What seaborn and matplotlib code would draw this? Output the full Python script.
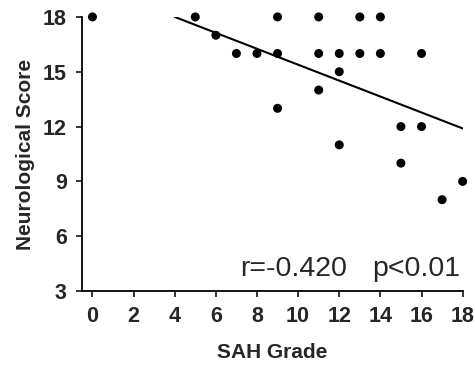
import numpy as np
import pandas as pd
import matplotlib
matplotlib.use('Agg')
import matplotlib.pyplot as plt
import seaborn as sns

# Datos
sah_grade = [0, 5, 6, 7, 8, 9, 9, 9, 11, 11, 11, 12, 12, 12, 13, 13, 14, 14, 15, 15, 16, 16, 17, 18]
neuro_score = [18, 18, 17, 16, 16, 18, 16, 13, 18, 16, 14, 16, 15, 11, 18, 16, 18, 16, 12, 10, 16, 12, 8, 9]

# Recta de regresion (extremos)
fit_x = [4, 18]
fit_y = [18.0, 11.9]

x_ticks = [0, 2, 4, 6, 8, 10, 12, 14, 16, 18]
y_ticks = [3, 6, 9, 12, 15, 18]

sns.set_style('ticks')
plt.rcParams['font.family'] = ['Liberation Sans', 'DejaVu Sans']

df = pd.DataFrame({'SAH Grade': sah_grade, 'Neurological Score': neuro_score})

fig = plt.figure(figsize=(4.75, 3.68), dpi=100)
ax = fig.add_axes([0.173, 0.209, 0.801, 0.745])

sns.scatterplot(data=df, x='SAH Grade', y='Neurological Score', ax=ax,
                color='black', s=42, edgecolor='none', clip_on=False, zorder=3)
sns.lineplot(x=fit_x, y=fit_y, ax=ax, color='black', linewidth=1.5)

ax.set_xlim(-0.5, 18)
ax.set_ylim(3, 18)
ax.set_xticks(x_ticks)
ax.set_yticks(y_ticks)
ax.tick_params(axis='both', labelsize=15.5, width=1.3, length=4, direction='out', pad=7)
for lbl in ax.get_xticklabels() + ax.get_yticklabels():
    lbl.set_fontweight('bold')

ax.set_xlabel('SAH Grade', fontsize=15, fontweight='bold', labelpad=11)
ax.set_ylabel('Neurological Score', fontsize=15, fontweight='bold', labelpad=6)

sns.despine(ax=ax)
for side in ['left', 'bottom']:
    ax.spines[side].set_linewidth(1.3)
    ax.spines[side].set_color('black')

ax.text(7.2, 4.2, 'r=-0.420', fontsize=20.5, ha='left', va='center')
ax.text(13.6, 4.2, 'p<0.01', fontsize=20.5, ha='left', va='center')

fig.savefig('out.png', dpi=100)
